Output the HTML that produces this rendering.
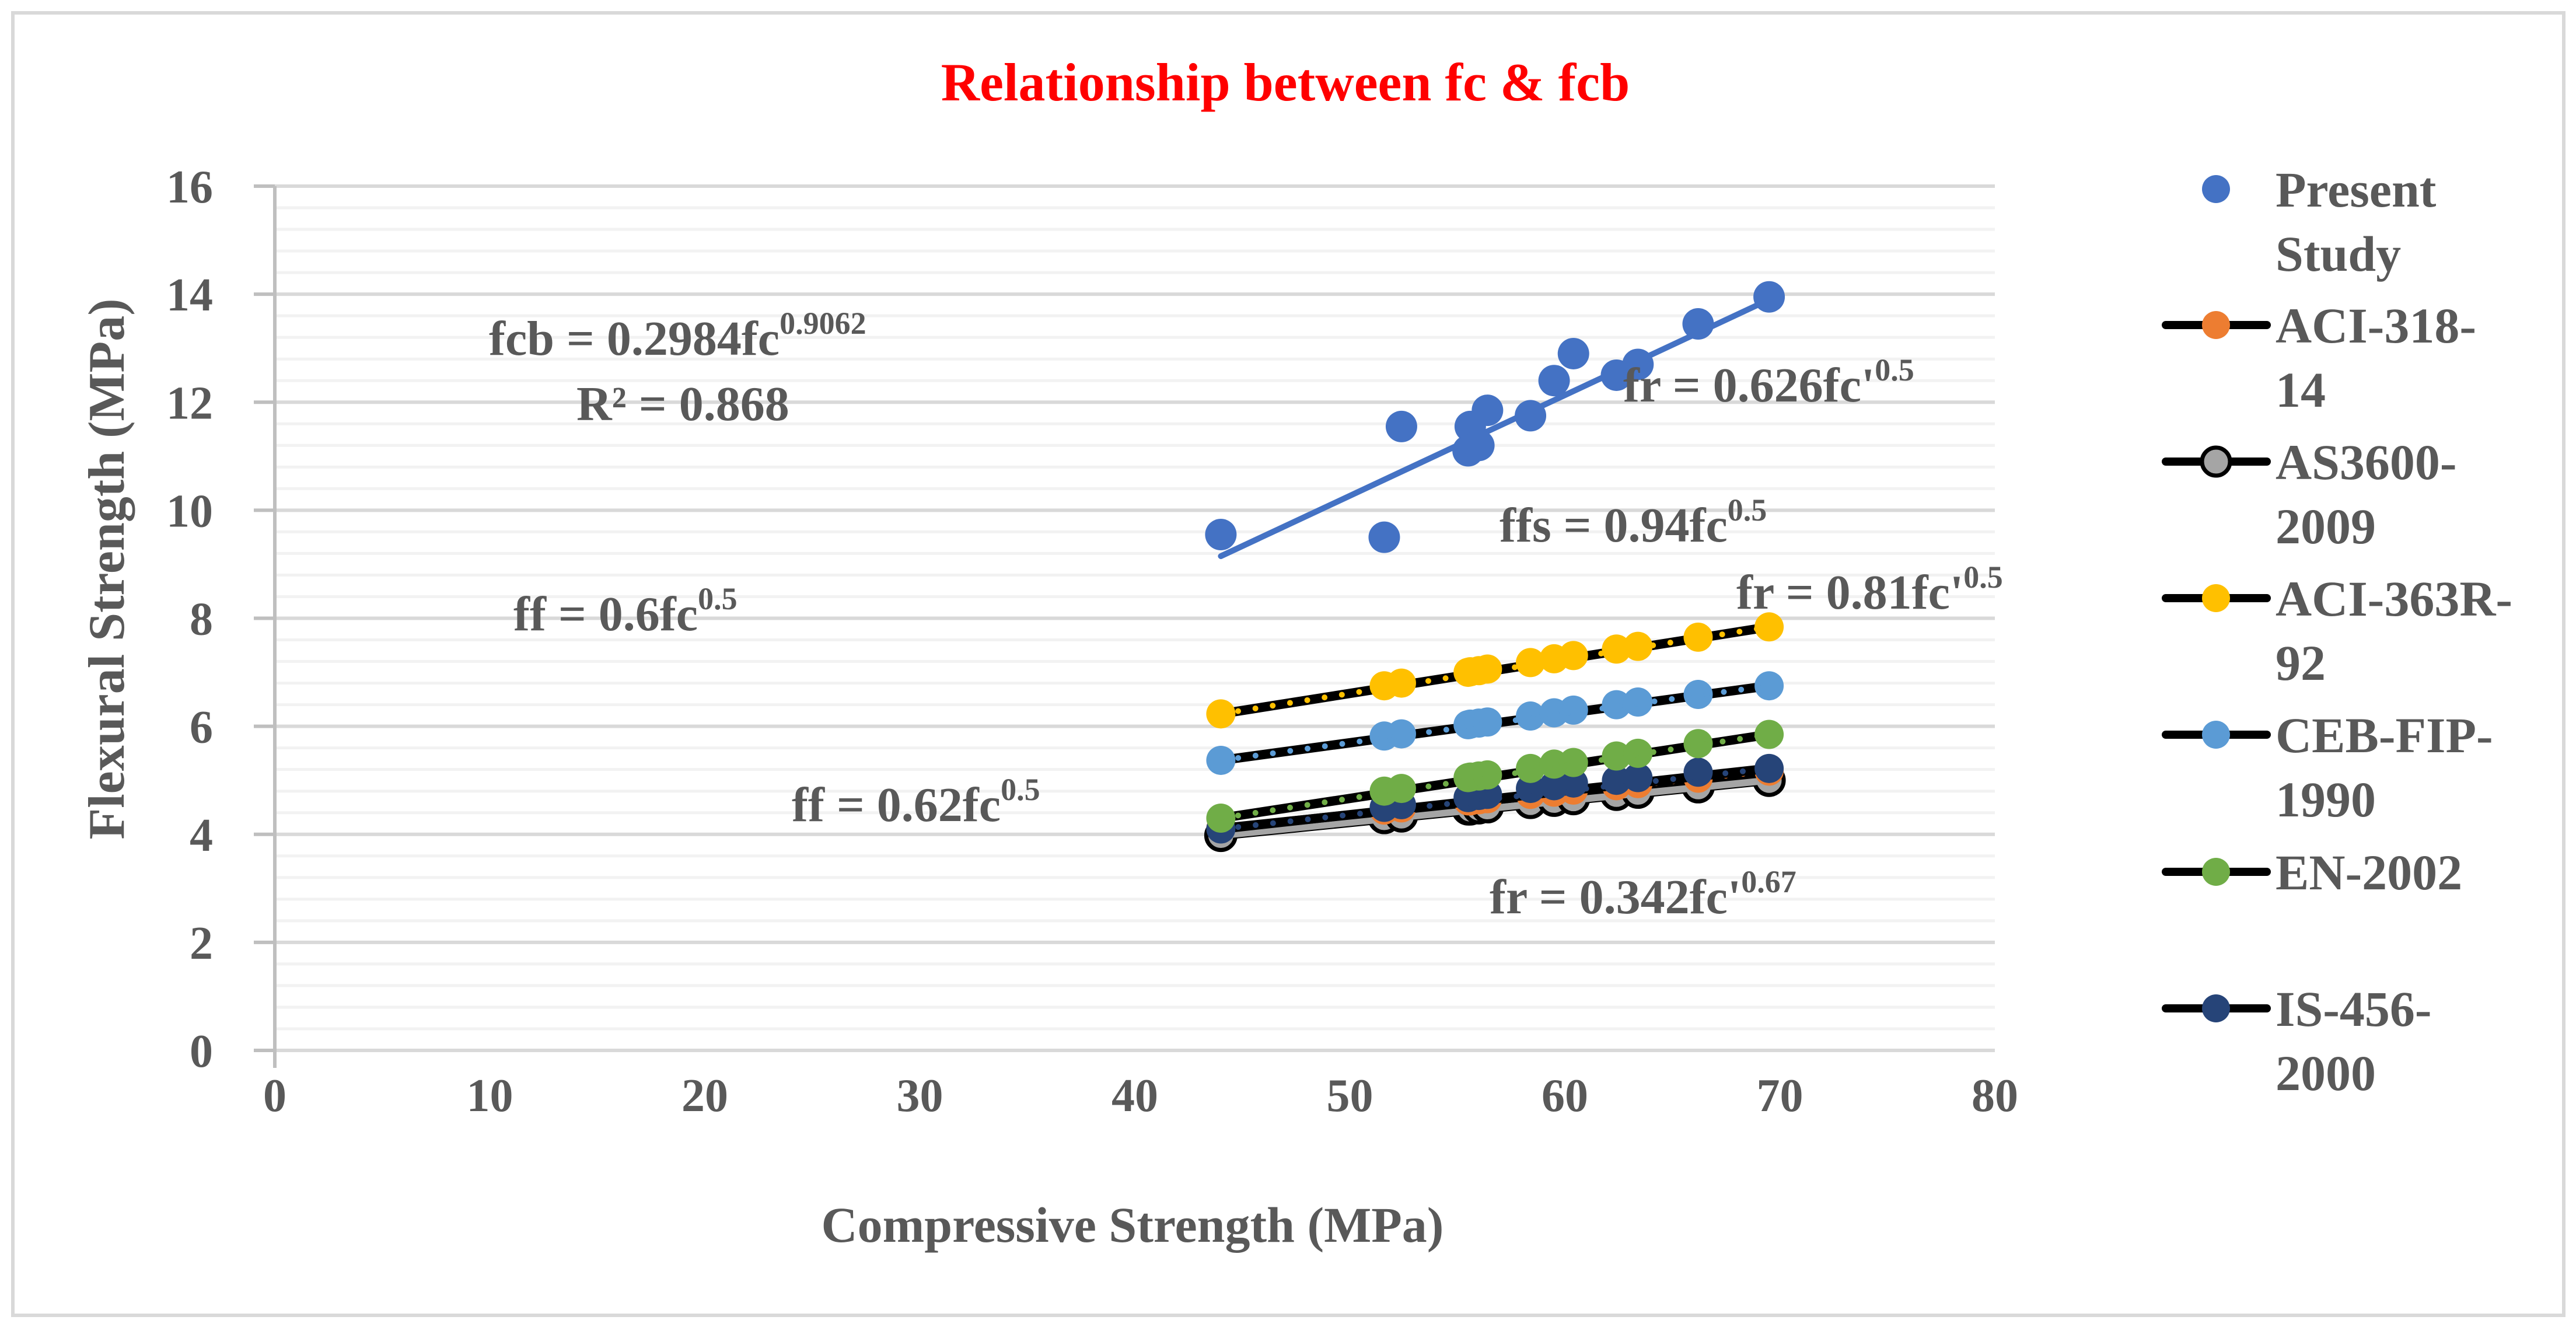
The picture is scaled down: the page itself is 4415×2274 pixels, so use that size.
<!DOCTYPE html>
<html><head><meta charset="utf-8"><style>
html,body{margin:0;padding:0;background:#fff;}
svg{display:block;font-family:"Liberation Serif",serif;font-weight:bold;}
</style></head><body>
<svg id="chart" width="4415" height="2274" viewBox="0 0 4415 2274" xmlns="http://www.w3.org/2000/svg">
<rect x="22" y="22" width="4372" height="2232" fill="#fff" stroke="#d9d9d9" stroke-width="6"/>
<text x="2203" y="172" font-size="92" fill="#ff0000" text-anchor="middle">Relationship between fc &amp; fcb</text>
<g id="grid"></g>
<g id="axes"></g>
<g id="series"></g>
<g fill="#595959" font-size="84">
<text x="838" y="608">fcb = 0.2984fc<tspan font-size="54" dy="-36">0.9062</tspan></text>
<text x="988" y="720">R² = 0.868</text>
<text x="2782" y="688">fr = 0.626fc'<tspan font-size="54" dy="-36">0.5</tspan></text>
<text x="2570" y="928">ffs = 0.94fc<tspan font-size="54" dy="-36">0.5</tspan></text>
<text x="2976" y="1043">fr = 0.81fc'<tspan font-size="54" dy="-36">0.5</tspan></text>
<text x="880" y="1080">ff = 0.6fc<tspan font-size="54" dy="-36">0.5</tspan></text>
<text x="1357" y="1407">ff = 0.62fc<tspan font-size="54" dy="-36">0.5</tspan></text>
<text x="2553" y="1565">fr = 0.342fc'<tspan font-size="54" dy="-36">0.67</tspan></text>
</g>
<text x="1941" y="2128" font-size="86" fill="#595959" text-anchor="middle">Compressive Strength (MPa)</text>
<text transform="translate(212,975) rotate(-90)" font-size="88" fill="#595959" text-anchor="middle">Flexural Strength (MPa)</text>
<g id="legend"></g>
</svg>
<script>
const fcValues = [44, 51.6, 52.4, 55.5, 55.6, 56, 56.4, 58.4, 59.5, 60.4, 62.4, 63.4, 66.2, 69.5];
const presentStudy = [9.55, 9.5, 11.55, 11.1, 11.55, 11.2, 11.85, 11.75, 12.4, 12.9, 12.5, 12.7, 13.45, 13.95];
const aci318 = [4.11, 4.45, 4.49, 4.62, 4.62, 4.64, 4.66, 4.74, 4.78, 4.82, 4.9, 4.94, 5.04, 5.17];
const as3600 = [3.98, 4.31, 4.34, 4.47, 4.47, 4.49, 4.51, 4.59, 4.63, 4.66, 4.74, 4.78, 4.88, 5.0];
const aci363 = [6.23, 6.75, 6.8, 7.0, 7.01, 7.03, 7.06, 7.18, 7.25, 7.31, 7.43, 7.48, 7.65, 7.84];
const cebFip = [5.37, 5.82, 5.86, 6.03, 6.04, 6.06, 6.08, 6.19, 6.25, 6.3, 6.4, 6.45, 6.59, 6.75];
const en2002 = [4.3, 4.8, 4.85, 5.05, 5.06, 5.08, 5.1, 5.22, 5.3, 5.33, 5.45, 5.5, 5.68, 5.85];
const is456 = [4.1, 4.5, 4.55, 4.68, 4.7, 4.72, 4.74, 4.85, 4.9, 4.95, 5.0, 5.05, 5.15, 5.22];
const xTicks = [0, 10, 20, 30, 40, 50, 60, 70, 80];
const yTicks = [0, 2, 4, 6, 8, 10, 12, 14, 16];
const fitLine = [[44, 9.15], [69.5, 13.9]];

const NS = 'http://www.w3.org/2000/svg';
const X0 = 471, X1 = 3419, Y0 = 1800, Y1 = 319;
const xs = v => X0 + (v - 0) / 80 * (X1 - X0);
const ys = v => Y0 - v / 16 * (Y0 - Y1);
function mk(tag, attrs, parent) { const e = document.createElementNS(NS, tag); for (const k in attrs) e.setAttribute(k, attrs[k]); parent.appendChild(e); return e; }

const grid = document.getElementById('grid');
for (let i = 0; i <= 40; i++) {
  const v = i * 0.4;
  const major = i % 5 === 0;
  const l = mk('line', { x1: X0, x2: X1, y1: ys(v), y2: ys(v), stroke: major ? '#d9d9d9' : '#f2f2f2', 'stroke-width': major ? 6 : 5 }, grid);
  
  
}
const axes = document.getElementById('axes');
const ax = mk('line', { x1: X0, x2: X0, y1: Y1, y2: Y0 + 30, stroke: '#bfbfbf', 'stroke-width': 6 }, axes);


yTicks.forEach(t => {
  const tk = mk('line', { x1: X0 - 36, x2: X0, y1: ys(t), y2: ys(t), stroke: '#bfbfbf', 'stroke-width': 6 }, axes);
  
  
  const tx = mk('text', { x: 365, y: ys(t) + 28, 'font-size': 80, fill: '#595959', 'text-anchor': 'end' }, axes);
  tx.textContent = t;
  
  
});
xTicks.forEach(t => {
  const tx = mk('text', { x: xs(t), y: 1904, 'font-size': 80, fill: '#595959', 'text-anchor': 'middle' }, axes);
  tx.textContent = t;
  
  
});

const S = document.getElementById('series');
const refs = [
  { name: 'as3600', vals: as3600, color: '#a5a5a5', stroke: '#000' },
  { name: 'aci318', vals: aci318, color: '#ed7d31' },
  { name: 'is456', vals: is456, color: '#264478' },
  { name: 'en2002', vals: en2002, color: '#70ad47' },
  { name: 'ceb-fip', vals: cebFip, color: '#5b9bd5' },
  { name: 'aci363', vals: aci363, color: '#ffc000' }
];
refs.forEach(r => {
  const g = mk('g', {}, S);
  
  
  const n = r.vals.length - 1;
  const bl = mk('line', { x1: xs(fcValues[0]), y1: ys(r.vals[0]), x2: xs(fcValues[n]), y2: ys(r.vals[n]), stroke: '#000', 'stroke-width': 16, 'stroke-linecap': 'round' }, g);
  
  
  r.vals.forEach((v, i) => {
    const c = mk('circle', { cx: xs(fcValues[i]), cy: ys(v), r: 25, fill: r.color, stroke: r.stroke || 'none', 'stroke-width': r.stroke ? 7 : 0 }, g);
    
    
  });
  const dl = mk('line', { x1: xs(fcValues[0]), y1: ys(r.vals[0]), x2: xs(fcValues[n]), y2: ys(r.vals[n]), stroke: r.name === 'as3600' ? '#a5a5a5' : r.color, 'stroke-width': r.name === 'as3600' ? 12 : 10, 'stroke-linecap': 'round', 'stroke-dasharray': r.name === 'as3600' ? 'none' : '0 30' }, g);
  
  
});
const pg = mk('g', {}, S);


const fl = mk('line', { x1: xs(fitLine[0][0]), y1: ys(fitLine[0][1]), x2: xs(fitLine[1][0]), y2: ys(fitLine[1][1]), stroke: '#4472c4', 'stroke-width': 10, 'stroke-linecap': 'round' }, pg);


presentStudy.forEach((v, i) => {
  const c = mk('circle', { cx: xs(fcValues[i]), cy: ys(v), r: 27, fill: '#4472c4' }, pg);
  
  
});

const L = document.getElementById('legend');
const legendItems = [
  { l1: 'Present', l2: 'Study', color: '#4472c4', y: 324, line: false },
  { l1: 'ACI-318-', l2: '14', color: '#ed7d31', y: 557, line: true },
  { l1: 'AS3600-', l2: '2009', color: '#a5a5a5', y: 791, line: true, stroke: true },
  { l1: 'ACI-363R-', l2: '92', color: '#ffc000', y: 1025, line: true },
  { l1: 'CEB-FIP-', l2: '1990', color: '#5b9bd5', y: 1259, line: true },
  { l1: 'EN-2002', l2: '', color: '#70ad47', y: 1494, line: true },
  { l1: 'IS-456-', l2: '2000', color: '#264478', y: 1728, line: true }
];
legendItems.forEach(it => {
  const g = mk('g', {}, L);
  
  
  if (it.line) mk('line', { x1: 3712, x2: 3885, y1: it.y, y2: it.y, stroke: '#000', 'stroke-width': 14, 'stroke-linecap': 'round' }, g);
  mk('circle', { cx: 3798, cy: it.y, r: 24, fill: it.color, stroke: it.stroke ? '#000' : 'none', 'stroke-width': it.stroke ? 7 : 0 }, g);
  const t1 = mk('text', { x: 3900, y: it.y + 30, 'font-size': 86, fill: '#595959' }, g);
  t1.textContent = it.l1;
  if (it.l2) { const t2 = mk('text', { x: 3900, y: it.y + 140, 'font-size': 86, fill: '#595959' }, g); t2.textContent = it.l2; }
});
</script>
</body></html>
